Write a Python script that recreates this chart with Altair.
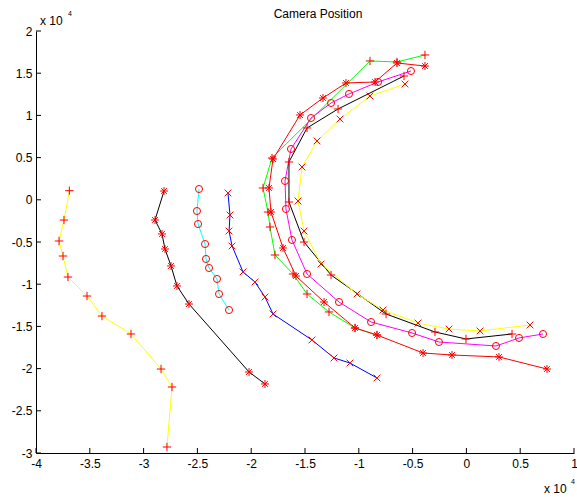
import altair as alt
import pandas as pd

# ---- data (world units; axes show them as x 10^4) ----
s1_x = [-36900, -37400, -37860, -37490, -37030, -35260, -33870, -31170, -28380, -27360, -27830]
s1_y = [1080, -2400, -4880, -6660, -9150, -11400, -13770, -15900, -20050, -22180, -29290]

s2_x = [-28100, -28940, -28290, -28010, -27450, -26900, -25780, -20200, -18720]
s2_y = [1040, -2390, -4050, -5830, -7840, -10210, -12350, -20400, -21820]

s3_x = [-24850, -25040, -24940, -24290, -24200, -23920, -23180, -22990, -22060]
s3_y = [1280, -1330, -2870, -5240, -7010, -8080, -9380, -11160, -13060]

s4_x = [-22160, -21970, -22060, -21780, -20760, -19650, -18720, -17970, -14350, -12300, -10820, -8310]
s4_y = [810, -1800, -3700, -5470, -8550, -9740, -11520, -13530, -16610, -18740, -19340, -21110]

s5_x = [-3850, -6450, -8960, -18070, -18900, -18440, -18250, -17790, -16110, -14810, -12770, -10350, -8310]
s5_y = [17160, 16330, 16450, 4950, 1400, -1450, -3220, -6540, -8790, -11160, -13290, -15190, -16020]

s6_x = [-3850, -6450, -8490, -11190, -13330, -15460, -17970, -18350, -18160, -17040, -15840, -13230,
        -10350, -8310, -4030, -1340, 3030, 7490]
s6_y = [15850, 16210, 13960, 13840, 12060, 10050, 4830, 1400, -1450, -5710, -9030, -12110,
        -15190, -16020, -18150, -18390, -18620, -20050]

s7_x = [-5150, -8210, -10910, -12580, -14440, -16300, -16860, -16770, -16210, -14810, -11840, -8860,
        -5050, -2550, 2750, 4890, 7120]
s7_y = [15260, 13960, 12540, 11470, 9690, 6020, 2230, -1090, -4760, -8790, -12110, -14480,
        -15780, -16850, -17320, -16370, -15900]

s8_x = [-5800, -11930, -14810, -16490, -16490, -15090, -12580, -7470, -2920, -40, 4240]
s8_y = [14670, 10760, 8510, 4480, -260, -5000, -8910, -13530, -15660, -16490, -15900]

s9_x = [-5710, -8960, -11750, -13880, -15280, -15650, -15090, -13510, -10170, -7750, -4500, -1620, 1270, 5910]
s9_y = [13720, 12300, 9570, 6970, 3890, -140, -3700, -7610, -11160, -13060, -14600, -15310, -15540, -14830]

series_ids = ["s1", "s2", "s3", "s4", "s5", "s6", "s7", "s8", "s9"]
line_colors = ["#ffff00", "#000000", "#00ffff", "#0000ff", "#00ff00", "#ff0000", "#ff00ff", "#000000", "#ffff00"]
marker_types = ["plus", "star", "circle", "ex", "plus", "star", "circle", "plus", "ex"]
xs = [s1_x, s2_x, s3_x, s4_x, s5_x, s6_x, s7_x, s8_x, s9_x]
ys = [s1_y, s2_y, s3_y, s4_y, s5_y, s6_y, s7_y, s8_y, s9_y]

x_ticks = [-40000, -35000, -30000, -25000, -20000, -15000, -10000, -5000, 0, 5000, 10000]
y_ticks = [-30000, -25000, -20000, -15000, -10000, -5000, 0, 5000, 10000, 15000, 20000]

rows = []
for sid, mt, xv, yv in zip(series_ids, marker_types, xs, ys):
    for i, (a, b) in enumerate(zip(xv, yv)):
        rows.append({"series": sid, "marker": mt, "idx": i, "x": a, "y": b})
df = pd.DataFrame(rows)

FONT = "Liberation Sans"
W, H = 538, 422

xscale = alt.Scale(domain=[-40000, 10000], nice=False, zero=False)
yscale = alt.Scale(domain=[-30000, 20000], nice=False, zero=False)

base = alt.Chart(df)

lines = base.mark_line(strokeWidth=1).encode(
    x=alt.X("x:Q", scale=xscale, title=None,
            axis=alt.Axis(values=x_ticks, labelExpr="datum.value / 10000", tickSize=0,
                          labelPadding=5, grid=False, domainColor="black", labelColor="black",
                          labelFontSize=12, labelFont=FONT, labelFlush=False)),
    y=alt.Y("y:Q", scale=yscale, title=None,
            axis=alt.Axis(values=y_ticks, labelExpr="datum.value / 10000", tickSize=0,
                          labelPadding=4, grid=False, domainColor="black", labelColor="black",
                          labelFontSize=12, labelFont=FONT, labelFlush=False)),
    color=alt.Color("series:N", scale=alt.Scale(domain=series_ids, range=line_colors), legend=None),
    order="idx:Q",
)

paths = {
    "plus": "M-1,0L1,0M0,-1L0,1",
    "ex": "M-1,-1L1,1M-1,1L1,-1",
    "star": "M-1,0L1,0M0,-1L0,1M-0.72,-0.72L0.72,0.72M-0.72,0.72L0.72,-0.72",
    "circle": "circle",
}
sizes = {"plus": 70, "ex": 45, "star": 64, "circle": 50}

marker_layers = []
for mt in ["plus", "star", "circle", "ex"]:
    marker_layers.append(
        base.transform_filter(alt.datum.marker == mt).mark_point(
            shape=paths[mt], filled=False, color="#ff0000", strokeWidth=1, size=sizes[mt], opacity=1
        ).encode(x=alt.X("x:Q", scale=xscale), y=alt.Y("y:Q", scale=yscale))
    )

xt = alt.Chart(pd.DataFrame({"v": x_ticks})).mark_rule(color="black", strokeWidth=1).encode(
    x=alt.X("v:Q", scale=xscale), y=alt.value(H), y2=alt.value(H - 5)
)
yt = alt.Chart(pd.DataFrame({"v": y_ticks})).mark_rule(color="black", strokeWidth=1).encode(
    y=alt.Y("v:Q", scale=yscale), x=alt.value(0), x2=alt.value(5)
)

one = alt.Data(values=[{}])
def txt(s, x, y, size):
    return alt.Chart(one).mark_text(text=s, font=FONT, fontSize=size, color="black",
                                    align="left", baseline="alphabetic").encode(
        x=alt.value(x), y=alt.value(y))

title = alt.Chart(one).mark_text(text="Camera Position", font=FONT, fontSize=12, color="black",
                                 align="center", baseline="alphabetic").encode(
    x=alt.value(282), y=alt.value(-13))

annots = [
    txt("x 10", 4, -6, 12), txt("4", 32, -15, 7),
    txt("x 10", 508, 462, 12), txt("4", 535, 453, 7),
    title,
]

chart = alt.layer(lines, *marker_layers, xt, yt, *annots).properties(
    width=W, height=H, autosize="none",
    padding={"left": 36, "top": 31, "right": 3, "bottom": 44},
).configure_view(stroke=None).configure_axis(domainWidth=1)

chart.save("out.html", embed_options={"renderer": "svg", "actions": False})
